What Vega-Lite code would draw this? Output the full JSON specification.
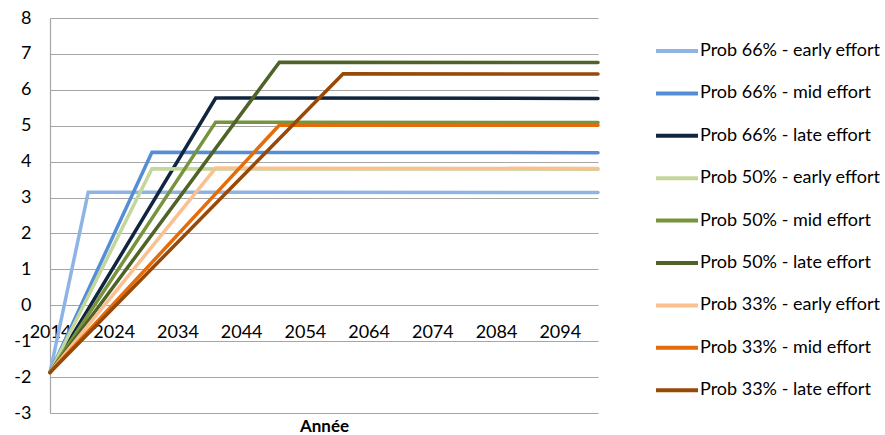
{
  "$schema": "https://vega.github.io/schema/vega-lite/v6.json",
  "width": 548,
  "height": 395,
  "autosize": {"type": "none"},
  "padding": {"left": 50, "top": 18, "right": 287, "bottom": 22},
  "background": "white",
  "config": {
    "view": {"stroke": null},
    "font": "Lato"
  },
  "data": {
    "values": [
      {"serie": "Prob 66% - early effort", "annee": 2014, "valeur": -1.87},
      {"serie": "Prob 66% - early effort", "annee": 2020, "valeur": 3.15},
      {"serie": "Prob 66% - early effort", "annee": 2100, "valeur": 3.14},
      {"serie": "Prob 66% - mid effort", "annee": 2014, "valeur": -1.87},
      {"serie": "Prob 66% - mid effort", "annee": 2030, "valeur": 4.26},
      {"serie": "Prob 66% - mid effort", "annee": 2100, "valeur": 4.25},
      {"serie": "Prob 66% - late effort", "annee": 2014, "valeur": -1.87},
      {"serie": "Prob 66% - late effort", "annee": 2040, "valeur": 5.77},
      {"serie": "Prob 66% - late effort", "annee": 2100, "valeur": 5.76},
      {"serie": "Prob 50% - early effort", "annee": 2014, "valeur": -1.87},
      {"serie": "Prob 50% - early effort", "annee": 2030, "valeur": 3.8},
      {"serie": "Prob 50% - early effort", "annee": 2100, "valeur": 3.79},
      {"serie": "Prob 50% - mid effort", "annee": 2014, "valeur": -1.87},
      {"serie": "Prob 50% - mid effort", "annee": 2040, "valeur": 5.1},
      {"serie": "Prob 50% - mid effort", "annee": 2100, "valeur": 5.09},
      {"serie": "Prob 50% - late effort", "annee": 2014, "valeur": -1.87},
      {"serie": "Prob 50% - late effort", "annee": 2050, "valeur": 6.77},
      {"serie": "Prob 50% - late effort", "annee": 2100, "valeur": 6.76},
      {"serie": "Prob 33% - early effort", "annee": 2014, "valeur": -1.87},
      {"serie": "Prob 33% - early effort", "annee": 2040, "valeur": 3.82},
      {"serie": "Prob 33% - early effort", "annee": 2100, "valeur": 3.81},
      {"serie": "Prob 33% - mid effort", "annee": 2014, "valeur": -1.87},
      {"serie": "Prob 33% - mid effort", "annee": 2050, "valeur": 5.02},
      {"serie": "Prob 33% - mid effort", "annee": 2100, "valeur": 5.01},
      {"serie": "Prob 33% - late effort", "annee": 2014, "valeur": -1.87},
      {"serie": "Prob 33% - late effort", "annee": 2060, "valeur": 6.45},
      {"serie": "Prob 33% - late effort", "annee": 2100, "valeur": 6.44}
    ]
  },
  "mark": {"type": "line", "strokeWidth": 3.5, "strokeCap": "round", "strokeJoin": "miter"},
  "encoding": {
    "x": {
      "field": "annee",
      "type": "quantitative",
      "title": "Année",
      "scale": {"domain": [2014, 2100], "nice": false, "zero": false},
      "axis": {
        "values": [2014, 2024, 2034, 2044, 2054, 2064, 2074, 2084, 2094],
        "format": "d",
        "grid": false,
        "domain": false,
        "ticks": false,
        "offset": -107.7,
        "labelFontSize": 18,
        "labelColor": "#000000",
        "labelPadding": 18,
        "labelBaseline": "top",
        "labelFlush": false,
        "labelOverlap": false,
        "titleFontSize": 17,
        "titleFontWeight": "bold",
        "titleColor": "#000000",
        "titleBaseline": "middle",
        "titleY": 121
      }
    },
    "y": {
      "field": "valeur",
      "type": "quantitative",
      "title": null,
      "scale": {"domain": [-3, 8], "nice": false, "zero": false},
      "axis": {
        "values": [-3, -2, -1, 0, 1, 2, 3, 4, 5, 6, 7, 8],
        "labelExpr": "datum.value",
        "grid": true,
        "gridColor": "#A6A6A6",
        "gridWidth": 1.2,
        "domain": true,
        "domainColor": "#A6A6A6",
        "domainWidth": 1.2,
        "ticks": false,
        "labelFontSize": 18,
        "labelColor": "#000000",
        "labelPadding": 19
      }
    },
    "color": {
      "field": "serie",
      "type": "nominal",
      "sort": null,
      "scale": {
        "domain": [
          "Prob 66% - early effort", "Prob 66% - mid effort", "Prob 66% - late effort",
          "Prob 50% - early effort", "Prob 50% - mid effort", "Prob 50% - late effort",
          "Prob 33% - early effort", "Prob 33% - mid effort", "Prob 33% - late effort"
        ],
        "range": ["#8EB4E3", "#558ED5", "#10253F", "#C3D69B", "#77933C", "#4F6228", "#FAC090", "#E46C0A", "#984807"]
      },
      "legend": {
        "title": null,
        "orient": "none",
        "legendX": 604,
        "legendY": 10,
        "symbolType": "stroke",
        "symbolSize": 1764,
        "symbolStrokeWidth": 4,
        "rowPadding": 10.4,
        "labelOffset": 0,
        "labelFontSize": 18,
        "labelColor": "#000000",
        "labelLimit": 300
      }
    }
  }
}
